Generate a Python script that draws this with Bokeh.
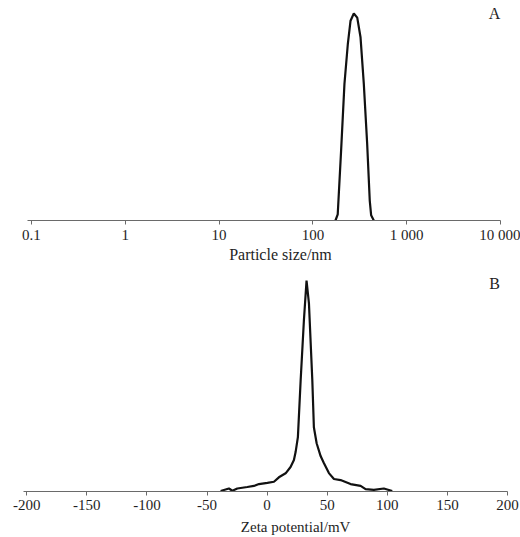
import math
from bokeh.plotting import figure
from bokeh.models import Range1d, FixedTicker, Label
from bokeh.layouts import column
from bokeh.embed import file_html
from bokeh.resources import INLINE

# ---- Panel A: particle size distribution ----
size_nm = [174, 184, 200, 217, 236, 252, 273, 297, 322, 349, 379, 404, 418, 446]
size_intensity = [0, 0.6, 6.8, 13.2, 17.1, 19.3, 20.0, 19.6, 17.7, 13.2, 7.4, 1.9, 0.5, 0]
size_ticks = [0.1, 1, 10, 100, 1000, 10000]
size_tick_labels = ["0.1", "1", "10", "100", "1 000", "10 000"]

# ---- Panel B: zeta potential distribution ----
zeta_mv = [-38.7, -31.8, -28.9, -24.8, -16.5, -11.0, -6.8, 0.2, 5.7, 9.8, 15.4, 19.5,
           22.3, 23.7, 25.6, 27.9, 30.6, 32.8, 34.8, 37.6, 38.9, 41.2, 44.5, 47.2,
           51.4, 55.6, 61.1, 69.4, 77.8, 81.9, 88.8, 97.1, 101.3, 104.1]
zeta_intensity = [0, 1.2, 0.1, 1.2, 1.9, 2.4, 3.3, 3.9, 4.4, 6.5, 8.4, 11.4,
                  14.7, 18.5, 25.6, 52.6, 81.0, 100, 89.1, 52.6, 30.3, 22.7, 16.6, 13.3,
                  8.5, 5.7, 5.2, 3.3, 2.4, 0.9, 0.5, 1.2, 0.5, 0]
zeta_ticks = [-200, -150, -100, -50, 0, 50, 100, 150, 200]
zeta_tick_labels = ["-200", "-150", "-100", "-50", "0", "50", "100", "150", "200"]

FONT = "Liberation Serif"
AXIS_COLOR = "#6a6a6a"
TEXT_COLOR = "#1e1e1e"
LINE_COLOR = "#111111"
LABEL_SHIFT = 6  # px correction for label baseline placement
W = 520


def style(p, standoff):
    p.outline_line_color = None
    p.xgrid.visible = False
    p.ygrid.visible = False
    ax = p.xaxis[0]
    ax.fixed_location = 0
    ax.axis_line_color = AXIS_COLOR
    ax.axis_line_width = 1
    ax.major_tick_line_color = AXIS_COLOR
    ax.major_tick_in = 0
    ax.major_tick_out = 4
    ax.minor_tick_line_color = None
    ax.major_label_standoff = standoff
    ax.major_label_text_font = FONT
    ax.major_label_text_font_size = "15px"
    ax.major_label_text_color = TEXT_COLOR


# Panel A (log axis): frame covers the whole figure, axis drawn at y = 0
A_H = 270
A_zero_px = 220
kA = 20.0 / 207                      # data units per pixel (y)
A_left_px, A_right_px = 27, 500      # axis line extent in pixels
A_x0, A_x1 = 0.0907, 10000
decA = (math.log10(A_x1) - math.log10(A_x0)) / (A_right_px - A_left_px)  # decades/px
pA = figure(width=W, height=A_H, x_axis_type="log",
            x_range=Range1d(10 ** (math.log10(A_x0) - A_left_px * decA),
                            10 ** (math.log10(A_x1) + (W - A_right_px) * decA)),
            y_range=Range1d(-(A_H - A_zero_px) * kA, A_zero_px * kA),
            output_backend="svg", toolbar_location=None, y_axis_location=None,
            min_border_left=0, min_border_right=0, min_border_top=0, min_border_bottom=0)
pA.line(size_nm, size_intensity, line_color=LINE_COLOR, line_width=2.2)
style(pA, 2)
pA.xaxis[0].bounds = (A_x0, A_x1)
pA.xaxis[0].ticker = FixedTicker(ticks=size_ticks)
pA.xaxis[0].major_label_overrides = {t: l for t, l in zip(size_ticks, size_tick_labels)}
pA.add_layout(Label(x=45.1, y=-(40 - LABEL_SHIFT) * kA, text="Particle size/nm",
                    text_align="center", text_baseline="alphabetic", text_font=FONT,
                    text_font_size="16px", text_color=TEXT_COLOR))
pA.add_layout(Label(x=8630, y=(201 + LABEL_SHIFT) * kA, text="A", text_align="center",
                    text_baseline="alphabetic", text_font=FONT, text_font_size="16px",
                    text_color=TEXT_COLOR))

# Panel B: frame covers the whole figure, axis drawn at y = 0
B_H = 267
B_zero_px = 220.5
kB = 100.0 / 210.5
B_left_px, B_right_px = 23, 507
B_x0, B_x1 = -202.7, 200
kxB = (B_x1 - B_x0) / (B_right_px - B_left_px)
pB = figure(width=W, height=B_H,
            x_range=Range1d(B_x0 - B_left_px * kxB, B_x1 + (W - B_right_px) * kxB),
            y_range=Range1d(-(B_H - B_zero_px) * kB, B_zero_px * kB),
            output_backend="svg", toolbar_location=None, y_axis_location=None,
            min_border_left=0, min_border_right=0, min_border_top=0, min_border_bottom=0)
pB.line(zeta_mv, zeta_intensity, line_color=LINE_COLOR, line_width=2.2)
style(pB, 5)
pB.xaxis[0].bounds = (B_x0, B_x1)
pB.xaxis[0].ticker = FixedTicker(ticks=zeta_ticks)
pB.xaxis[0].major_label_overrides = {t: l for t, l in zip(zeta_ticks, zeta_tick_labels)}
pB.add_layout(Label(x=23.7, y=-(41.5 - LABEL_SHIFT) * kB, text="Zeta potential/mV",
                    text_align="center", text_baseline="alphabetic", text_font=FONT,
                    text_font_size="15px", text_color=TEXT_COLOR))
pB.add_layout(Label(x=189.2, y=(201.5 + LABEL_SHIFT) * kB, text="B", text_align="center",
                    text_baseline="alphabetic", text_font=FONT, text_font_size="16px",
                    text_color=TEXT_COLOR))

layout = column(pA, pB, spacing=0)
open("out.html", "w").write(file_html(layout, INLINE))
